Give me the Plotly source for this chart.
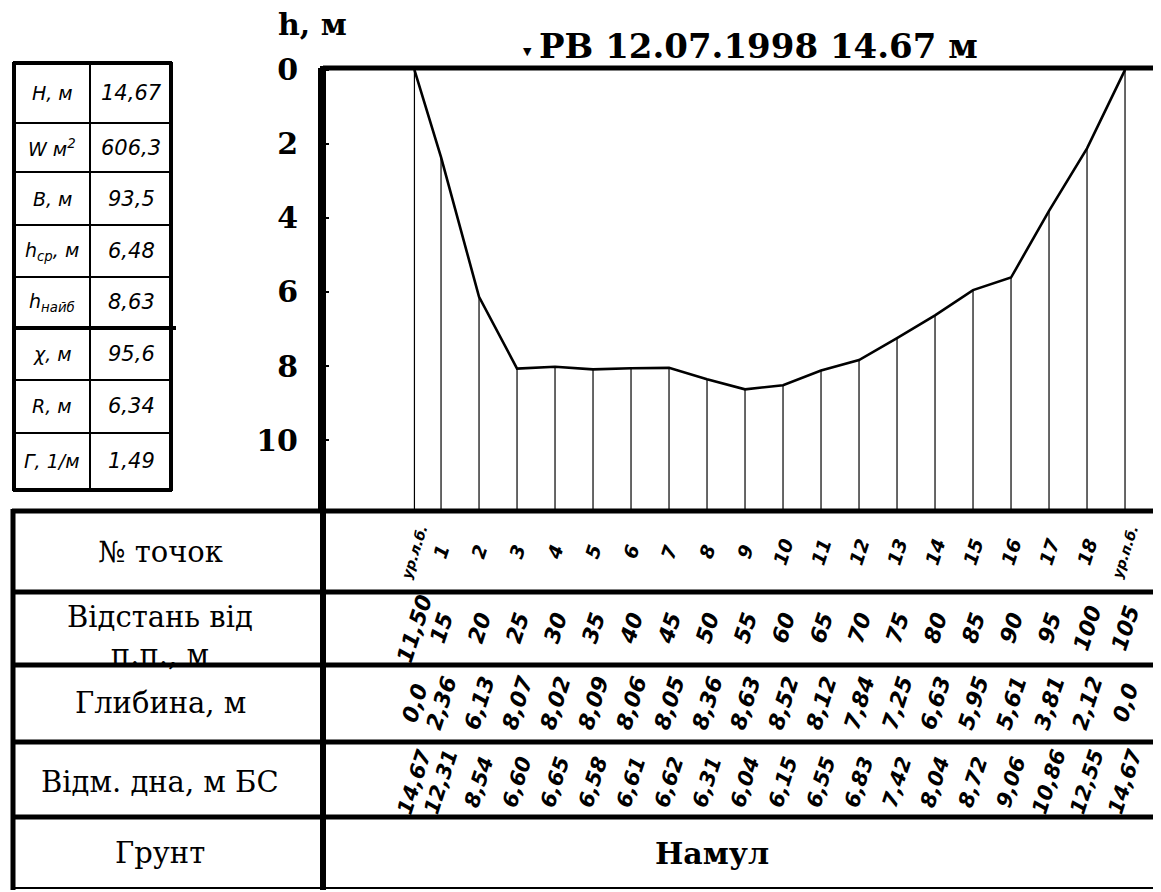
import plotly.graph_objects as go

# ---------------- data ----------------
point_labels = ["ур.л.б.", "1", "2", "3", "4", "5", "6", "7", "8", "9", "10",
                "11", "12", "13", "14", "15", "16", "17", "18", "ур.п.б."]
distance = [11.5, 15, 20, 25, 30, 35, 40, 45, 50, 55, 60, 65, 70, 75, 80, 85, 90, 95, 100, 105]
distance_txt = ["11,50", "15", "20", "25", "30", "35", "40", "45", "50", "55", "60",
                "65", "70", "75", "80", "85", "90", "95", "100", "105"]
depth = [0.0, 2.36, 6.13, 8.07, 8.02, 8.09, 8.06, 8.05, 8.36, 8.63, 8.52,
         8.12, 7.84, 7.25, 6.63, 5.95, 5.61, 3.81, 2.12, 0.0]
depth_txt = ["0,0", "2,36", "6,13", "8,07", "8,02", "8,09", "8,06", "8,05", "8,36", "8,63",
             "8,52", "8,12", "7,84", "7,25", "6,63", "5,95", "5,61", "3,81", "2,12", "0,0"]
bottom_elev_txt = ["14,67", "12,31", "8,54", "6,60", "6,65", "6,58", "6,61", "6,62", "6,31",
                   "6,04", "6,15", "6,55", "6,83", "7,42", "8,04", "8,72", "9,06", "10,86",
                   "12,55", "14,67"]
depth_ticks = [0, 2, 4, 6, 8, 10]
param_names = ["H, м", "W м<sup>2</sup>", "B, м", "h<sub>ср</sub>, м", "h<sub>найб</sub>",
               "χ, м", "R, м", "Г, 1/м"]
param_values = ["14,67", "606,3", "93,5", "6,48", "8,63", "95,6", "6,34", "1,49"]
row_names = ["№ точок", "Відстань від<br>п.п., м", "Глибина, м", "Відм. дна, м БС", "Грунт"]
soil = "Намул"
title_txt = "РВ 12.07.1998 14.67 м"

# the page body adds an 8 px margin, so the figure is drawn 8 px smaller
OFF = 8
W, H = 1161 - OFF, 892 - OFF
Y_MAX = 11.89


def px(x):
    return (x - OFF) / W


def py(y):
    return 1 - (y - OFF) / H


fig = go.Figure()

# vertical lines from bed down to the bottom of the profile area
vx, vy = [], []
for d, h in zip(distance, depth):
    vx += [d, d, None]
    vy += [h, Y_MAX, None]
fig.add_trace(go.Scatter(x=vx, y=vy, mode="lines",
                         line=dict(color="black", width=1.2), hoverinfo="skip",
                         showlegend=False))
# bed profile
fig.add_trace(go.Scatter(x=distance, y=depth, mode="lines",
                         line=dict(color="black", width=2.6), showlegend=False))

shapes = []


def hline(x0, x1, y, w):
    shapes.append(dict(type="line", xref="paper", yref="paper",
                       x0=px(x0), x1=px(x1), y0=py(y), y1=py(y),
                       line=dict(color="black", width=w)))


def vline(x, y0, y1, w):
    shapes.append(dict(type="line", xref="paper", yref="paper",
                       x0=px(x), x1=px(x), y0=py(y0), y1=py(y1),
                       line=dict(color="black", width=w)))


# water level line (top)
hline(323, 1158, 68, 5)
# table lines
for yy in [511, 592, 665, 742, 817]:
    hline(12, 1158, yy, 5)
hline(12, 1158, 888, 2)
vline(323, 66, 890, 6)
vline(13, 509, 890, 5)
vline(1158, 68, 890, 1.5)

# parameter table (top-left)
prow = [63, 123, 172, 225, 277, 328, 380, 433, 490]
hline(13, 172, prow[0], 4)
hline(13, 172, prow[-1], 4)
for yy in prow[1:-1]:
    hline(13, 172, yy, 2)
hline(13, 176, 328, 4)
vline(14, 62, 491, 4)
vline(171, 62, 491, 4)
vline(90, 63, 490, 2)

ann = []
hand = dict(family="DejaVu Sans", color="black", style="italic")


def text(x, y, t, font, **kw):
    d = dict(x=x, y=y, xref="paper", yref="paper", text=t, showarrow=False,
             xanchor="center", yanchor="middle", font=font)
    d.update(kw)
    ann.append(d)


for i in range(len(param_names)):
    yc = (prow[i] + prow[i + 1]) / 2
    text(px(52), py(yc), param_names[i], dict(size=19, **hand))
    text(px(131), py(yc), param_values[i], dict(size=21, **hand))

serif = dict(family="DejaVu Serif", color="black")
# row headers
row_y = [552, 628, 703, 782, 853]
for name, yc in zip(row_names, row_y):
    text(px(160), py(yc + (8 if "<br>" in name else 0)), name, dict(size=29, **serif))

# values rows
rows = [(point_labels, 19), (distance_txt, 22), (depth_txt, 22), (bottom_elev_txt, 21)]
for (labels, fs), yc in zip(rows, row_y[:4]):
    for d, t in zip(distance, labels):
        size = 14 if len(t) > 5 else fs
        text(d, py(yc), t, dict(size=size, weight="bold", **hand), xref="x", textangle=-72)

text(px(712), py(853), soil, dict(size=30, weight="bold", **serif))

# axis caption and title
text(px(312), py(24), "h, м", dict(size=30, weight="bold", **serif))
text(px(527), py(51), "▼", dict(size=11, family="DejaVu Sans", color="black"))
text(px(537), py(46), title_txt, dict(size=34, weight="bold", **serif), xanchor="left")

fig.update_layout(
    template="none",
    width=W, height=H,
    margin=dict(l=0, r=0, t=0, b=0, autoexpand=False),
    paper_bgcolor="white", plot_bgcolor="white",
    showlegend=False,
    shapes=shapes,
    annotations=ann,
    xaxis=dict(domain=[px(323), px(1158)], range=[-0.53, 109.34], visible=False,
               automargin=False),
    yaxis=dict(domain=[py(510), py(68)], range=[Y_MAX, -0.05], automargin=False,
               tickvals=depth_ticks, ticktext=[str(t) for t in depth_ticks],
               ticks="inside", ticklen=6, tickwidth=2, tickcolor="black",
               ticklabelstandoff=14,
               showline=True, linewidth=5, linecolor="black",
               showgrid=False, zeroline=False,
               tickfont=dict(size=30, weight="bold", **serif)),
)

fig.write_html("out.html")
